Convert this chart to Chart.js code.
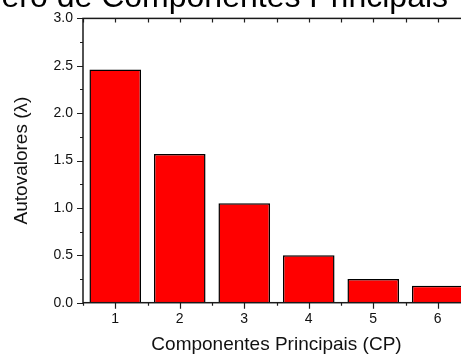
<!DOCTYPE html>
<html>
<head>
<meta charset="utf-8">
<script src="https://cdn.jsdelivr.net/npm/chart.js@4.4.1/dist/chart.umd.min.js"></script>
<style>
  html, body { margin: 0; padding: 0; background: #fff; overflow: hidden; width: 461px; height: 356px; }
  #wrap { position: absolute; left: 0; top: 0; width: 520px; height: 356px; }
</style>
</head>
<body>
<div id="wrap"><canvas id="c" width="520" height="356"></canvas></div>
<script>
// Scree data: eigenvalue of each principal component
const componentes = ['1', '2', '3', '4', '5', '6'];
const autovalores = [2.46, 1.57, 1.05, 0.50, 0.25, 0.18];

const tituloGrafico = 'Número de Componentes Principais';
const tituloX = 'Componentes Principais (CP)';
const tituloY = 'Autovalores (λ)';

const yMin = 0, yMax = 3.0, yPasso = 0.5;

const FONTE = '"Liberation Sans", Arial, Helvetica, sans-serif';

// Large heading, drawn so that it runs past the left and top edges
const cabecalho = {
  id: 'cabecalho',
  afterDraw(chart) {
    const { ctx } = chart;
    ctx.save();
    ctx.font = '32px ' + FONTE;
    ctx.fillStyle = '#000';
    ctx.textAlign = 'left';
    ctx.textBaseline = 'alphabetic';
    ctx.fillText(tituloGrafico, -66, 7);
    ctx.restore();
  }
};

// Boxed frame with outward ticks on left/bottom and inward ticks on top/right
const moldura = {
  id: 'moldura',
  afterDatasetsDraw(chart) {
    const { ctx, chartArea: a, scales: { x, y } } = chart;
    ctx.save();
    ctx.strokeStyle = '#1e1e1e';
    ctx.lineWidth = 1.2;
    ctx.beginPath();
    // y ticks (major every step, minor halfway)
    const n = Math.round((yMax - yMin) / (yPasso / 2));
    for (let k = 0; k <= n; k++) {
      const v = yMin + k * yPasso / 2;
      const py = Math.round(y.getPixelForValue(v)) + 0.5;
      const major = k % 2 === 0;
      ctx.moveTo(a.left - (major ? 6 : 3), py); ctx.lineTo(a.left, py);
      ctx.moveTo(a.right, py); ctx.lineTo(a.right + (major ? -5 : -3), py);
    }
    // x ticks: major at categories, minor at category boundaries
    const centros = componentes.map((_, i) => x.getPixelForValue(i));
    const passo = centros.length > 1 ? centros[1] - centros[0] : (a.right - a.left);
    centros.forEach((px0) => {
      const px = Math.round(px0) + 0.5;
      ctx.moveTo(px, a.bottom); ctx.lineTo(px, a.bottom + 6);
      ctx.moveTo(px, a.top); ctx.lineTo(px, a.top + 4);
    });
    for (let i = 0; i <= centros.length; i++) {
      const px = Math.round(centros[0] - passo / 2 + i * passo) + 0.5;
      ctx.moveTo(px, a.bottom); ctx.lineTo(px, a.bottom + 3);
      ctx.moveTo(px, a.top); ctx.lineTo(px, a.top + 4);
    }
    ctx.stroke();
    // frame
    ctx.lineWidth = 1.5;
    ctx.strokeStyle = '#1a1a1a';
    ctx.strokeRect(a.left, a.top, a.right - a.left, a.bottom - a.top);
    ctx.restore();
  }
};

new Chart(document.getElementById('c'), {
  type: 'bar',
  data: {
    labels: componentes,
    datasets: [{
      data: autovalores,
      backgroundColor: '#ff0000',
      borderColor: '#000',
      borderWidth: 1.5,
      categoryPercentage: 1.0,
      barPercentage: 0.8
    }]
  },
  options: {
    responsive: false,
    animation: false,
    devicePixelRatio: 1,
    layout: { padding: { top: 17, right: 50, left: 0, bottom: 0 } },
    plugins: {
      legend: { display: false },
      title: { display: false },
      tooltip: { enabled: false }
    },
    scales: {
      x: {
        grid: { display: false, drawTicks: false },
        border: { display: false },
        ticks: { color: '#111', font: { family: FONTE, size: 14 }, padding: 8, maxRotation: 0 },
        title: { display: true, text: tituloX, color: '#111', font: { family: FONTE, size: 19 }, padding: { top: 0, bottom: 0 } },
        afterFit(s) { s.height = 53.3; }
      },
      y: {
        min: yMin,
        max: yMax,
        grid: { display: false, drawTicks: false },
        border: { display: false },
        ticks: {
          stepSize: yPasso,
          color: '#111',
          font: { family: FONTE, size: 14 },
          padding: 10,
          callback: (v) => Number(v).toFixed(1)
        },
        title: { display: true, text: tituloY, color: '#111', font: { family: FONTE, size: 19 }, padding: { top: 10, bottom: 0 } },
        afterFit(s) { s.width = 83; }
      }
    }
  },
  plugins: [moldura, cabecalho]
});
</script>
</body>
</html>
